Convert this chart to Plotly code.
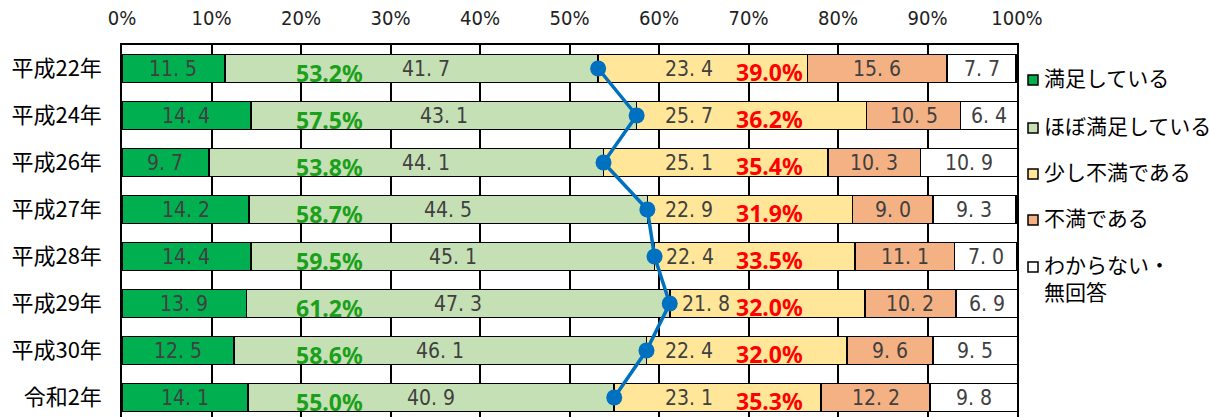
import plotly.graph_objects as go

years = ["平成22年", "平成24年", "平成26年", "平成27年", "平成28年", "平成29年", "平成30年", "令和2年"]
satisfied = [11.5, 14.4, 9.7, 14.2, 14.4, 13.9, 12.5, 14.1]
mostly_satisfied = [41.7, 43.1, 44.1, 44.5, 45.1, 47.3, 46.1, 40.9]
somewhat_dissatisfied = [23.4, 25.7, 25.1, 22.9, 22.4, 21.8, 22.4, 23.1]
dissatisfied = [15.6, 10.5, 10.3, 9.0, 11.1, 10.2, 9.6, 12.2]
unknown = [7.7, 6.4, 10.9, 9.3, 7.0, 6.9, 9.5, 9.8]
series_names = ["満足している", "ほぼ満足している", "少し不満である", "不満である", "わからない・<br>無回答"]
tick_vals = [0, 10, 20, 30, 40, 50, 60, 70, 80, 90, 100]
tick_text = [f"{v}%" for v in tick_vals]

colors = ["#00B050", "#C5E0B4", "#FFE699", "#F4B183", "#FFFFFF"]
series = [satisfied, mostly_satisfied, somewhat_dissatisfied, dissatisfied, unknown]

NUM_FONT = "Liberation Sans Narrow, DejaVu Sans Condensed, Noto Sans CJK JP, sans-serif"
JP_FONT = "Noto Sans CJK JP, sans-serif"

W, H = 1210, 417
ML, MR, MT, MB = 122, 193, 45, 0
PW, PH = W - ML - MR, H - MT - MB


def px_x(p):
    return (p - ML) / PW


def px_y(p):
    return (H - MB - p) / PH


fig = go.Figure()
for name, vals, col in zip(series_names, series, colors):
    fig.add_trace(go.Bar(
        y=years, x=vals, orientation="h", name=name,
        marker=dict(color=col, line=dict(color="#000000", width=1.6)),
        width=0.6, hoverinfo="skip", showlegend=False,
    ))

sat_total = [round(a + b, 1) for a, b in zip(satisfied, mostly_satisfied)]
dis_total = [round(a + b, 1) for a, b in zip(somewhat_dissatisfied, dissatisfied)]

fig.add_trace(go.Scatter(
    y=years, x=sat_total, mode="lines+markers", showlegend=False,
    line=dict(color="#0070C0", width=3.5),
    marker=dict(size=16, color="#0070C0"), cliponaxis=False, hoverinfo="skip",
))


def fmt(v):
    return f"{v:.1f}".replace(".", ". ")


ann = []
for i in range(len(years)):
    starts = [0.0]
    for s in series[:-1]:
        starts.append(starts[-1] + s[i])
    for k, s in enumerate(series):
        v = s[i]
        center = starts[k] + v / 2
        if k == 1:
            xc = max(center, 34.0)
        elif k == 2:
            xc = max(starts[k] + 4.0, 63.3)
        else:
            xc = center
        ann.append(dict(x=xc, y=i, xref="x", yref="y", text=fmt(v), showarrow=False,
                        font=dict(family=NUM_FONT, size=21, color="#404040")))
    ann.append(dict(x=23.2, y=i, xref="x", yref="y", text=f"<b>{sat_total[i]:.1f}%</b>", showarrow=False,
                    yshift=-4, font=dict(family="Noto Sans, sans-serif", size=23, color="#1AA01A")))
    ann.append(dict(x=72.3, y=i, xref="x", yref="y", text=f"<b>{dis_total[i]:.1f}%</b>", showarrow=False,
                    yshift=-3, font=dict(family="Noto Sans, sans-serif", size=23, color="#FF0000")))

# legend (drawn manually to match the reference spacing)
shapes = []
legend_y = [78, 126, 172, 218, 265]
for k, (name, col) in enumerate(zip(series_names, colors)):
    cy = legend_y[k] + 2
    shapes.append(dict(type="rect", xref="paper", yref="paper",
                       x0=px_x(1028), x1=px_x(1038), y0=px_y(cy + 5), y1=px_y(cy - 5),
                       fillcolor=col, line=dict(color="#000000", width=1.5)))
    ann.append(dict(x=px_x(1042), y=px_y(legend_y[k] - 1), xref="paper", yref="paper",
                    xanchor="left", yanchor="top" if "<br>" in name else "middle",
                    align="left", text=name, showarrow=False,
                    yshift=17 if "<br>" in name else 0,
                    font=dict(family=JP_FONT, size=21, color="#000000")))

fig.update_layout(
    width=W, height=H,
    margin=dict(l=ML, r=MR, t=MT, b=MB, autoexpand=False),
    barmode="stack",
    plot_bgcolor="#FFFFFF", paper_bgcolor="#FFFFFF",
    annotations=ann, shapes=shapes,
    showlegend=False,
    xaxis=dict(range=[0, 100], side="top", tickmode="array", tickvals=tick_vals, ticktext=tick_text,
               showgrid=True, gridcolor="#000000", gridwidth=1.5,
               showline=True, linecolor="#000000", linewidth=1.5, mirror=False,
               zeroline=False, ticks="", ticklabelstandoff=10, automargin=False,
               tickfont=dict(family=NUM_FONT, size=20, color="#222222"), fixedrange=True),
    yaxis=dict(type="category", categoryorder="array", categoryarray=years,
               range=[7.415, -0.5], showgrid=False, showline=True, linecolor="#000000",
               linewidth=1.5, mirror=True, ticks="", ticklabelstandoff=14, automargin=False,
               tickfont=dict(family=JP_FONT, size=22, color="#000000"), fixedrange=True),
)

fig.write_html("out.html", config={"displayModeBar": False},
               post_script="document.body.style.margin='0';document.body.style.overflow='hidden';")
